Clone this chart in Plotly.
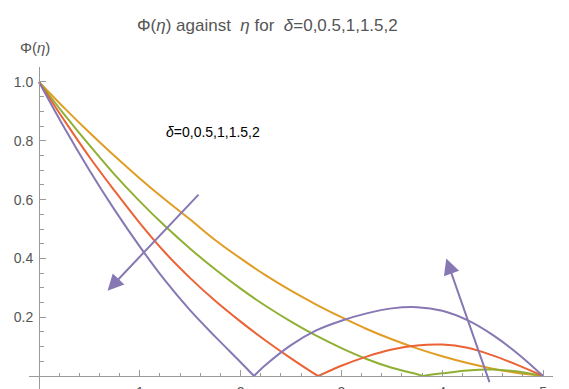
import plotly.graph_objects as go

# ---------------- data ----------------
eta_05 = [0, 0.25, 0.5, 0.75, 1.0, 1.25, 1.5, 1.75, 2.0, 2.25, 2.5, 2.75, 3.0, 3.25, 3.5, 3.75, 4.0, 4.25, 4.5, 4.75, 5.0]
phi_05 = [1.0, 0.912, 0.828, 0.748, 0.672, 0.600, 0.532, 0.462, 0.400, 0.342, 0.290, 0.243, 0.200, 0.160, 0.125, 0.094, 0.067, 0.044, 0.025, 0.010, 0.0]

eta_10 = [0, 0.25, 0.5, 0.75, 1.0, 1.25, 1.5, 1.75, 2.0, 2.25, 2.5, 2.75, 3.0, 3.25, 3.5, 3.75, 3.806, 4.0, 4.25, 4.5, 4.75, 5.0]
phi_10 = [1.0, 0.89, 0.785, 0.685, 0.594, 0.51, 0.433, 0.362, 0.297, 0.238, 0.185, 0.137, 0.095, 0.058, 0.028, 0.006, 0.0, 0.009, 0.019, 0.022, 0.015, 0.0]

eta_15 = [0, 0.25, 0.5, 0.75, 1.0, 1.25, 1.5, 1.75, 2.0, 2.25, 2.5, 2.75, 2.771, 3.0, 3.25, 3.5, 3.75, 4.0, 4.25, 4.5, 4.75, 5.0]
phi_15 = [1.0, 0.87, 0.745, 0.63, 0.52, 0.42, 0.333, 0.255, 0.185, 0.12, 0.06, 0.004, 0.0, 0.035, 0.066, 0.09, 0.104, 0.107, 0.096, 0.07, 0.037, 0.0]

eta_20 = [0, 0.25, 0.5, 0.75, 1.0, 1.25, 1.5, 1.75, 2.0, 2.133, 2.25, 2.5, 2.75, 3.0, 3.25, 3.5, 3.75, 4.0, 4.25, 4.5, 4.75, 5.0]
phi_20 = [1.0, 0.845, 0.70, 0.565, 0.44, 0.325, 0.223, 0.133, 0.047, 0.0, 0.038, 0.105, 0.155, 0.188, 0.213, 0.23, 0.234, 0.222, 0.19, 0.14, 0.076, 0.0]

series = [
    ("δ=0.5", eta_05, phi_05, "#E19C24"),
    ("δ=1", eta_10, phi_10, "#8FB032"),
    ("δ=1.5", eta_15, phi_15, "#EB6235"),
    ("δ=2", eta_20, phi_20, "#8778B3"),
]

x_tick_vals = [1, 2, 3, 4, 5]
x_tick_text = ["1", "2", "3", "4", "5"]
y_tick_vals = [0.2, 0.4, 0.6, 0.8, 1.0]
y_tick_text = ["0.2", "0.4", "0.6", "0.8", "1.0"]

# arrows: (tail_eta, tail_phi, head_eta, head_phi)
arrow_down = (1.597, 0.622, 0.68, 0.29)
arrow_up = (4.474, -0.026, 4.04, 0.40)

# ---------------- layout geometry ----------------
OFF = 8  # default page (body) margin of the written html
W, H = 569 - OFF, 389 - OFF
# plot area in window pixels
L, R, T, B = 29, 553, 67, 389
X_RANGE = [-0.0992, 5.099]
Y_RANGE = [-0.0442, 1.051]


def xp(px):
    return (px - L) / (R - L)


def yp(py):
    return (B - py) / (B - T)


FONT = "Liberation Sans, Arial, Helvetica, sans-serif"
AXIS = "#9a9a9a"
LABEL = "#555555"

fig = go.Figure()


def segments(xs, ys):
    segs = []
    start = 0
    for i in range(1, len(ys) - 1):
        if ys[i] == 0:
            segs.append((xs[start:i + 1], ys[start:i + 1]))
            start = i
    segs.append((xs[start:], ys[start:]))
    return segs


for name, xs, ys, col in series:
    for sx, sy in segments(xs, ys):
        fig.add_trace(go.Scatter(
            x=sx, y=sy, mode="lines", name=name, showlegend=False,
            line=dict(color=col, width=2, shape="spline", smoothing=1.0),
            hoverinfo="skip",
        ))

annotations = [
    dict(xref="paper", yref="paper", x=xp(267), y=yp(25), xanchor="center", yanchor="middle",
         text="Φ(<i>η</i>) against&#160; <i>η</i> for&#160; <i>δ</i>=0,0.5,1,1.5,2",
         showarrow=False, font=dict(family=FONT, size=17, color=LABEL)),
    dict(xref="paper", yref="paper", x=xp(35), y=yp(47), xanchor="center", yanchor="middle",
         text="Φ(<i>η</i>)", showarrow=False, font=dict(family=FONT, size=15, color=LABEL)),
    dict(xref="paper", yref="paper", x=xp(565), y=yp(380), xanchor="left", yanchor="middle",
         text="<i>η</i>", showarrow=False, font=dict(family=FONT, size=15, color=LABEL)),
    dict(xref="paper", yref="paper", x=xp(213), y=yp(132), xanchor="center", yanchor="middle",
         text="<i>δ</i>=0,0.5,1,1.5,2", showarrow=False, font=dict(family=FONT, size=14, color="#000000")),
]
for tx, ty, hx, hy in (arrow_down, arrow_up):
    annotations.append(dict(
        x=hx, y=hy, ax=tx, ay=ty, xref="x", yref="y", axref="x", ayref="y",
        text="", showarrow=True, arrowhead=2, arrowsize=1.6, arrowwidth=2,
        arrowcolor="#8778B3", standoff=0, startstandoff=0,
    ))

fig.update_layout(
    width=W, height=H,
    margin=dict(l=L - OFF, r=W - (R - OFF), t=T - OFF, b=H - (B - OFF), pad=0),
    paper_bgcolor="white", plot_bgcolor="white",
    showlegend=False,
    font=dict(family=FONT, size=14, color=LABEL),
    annotations=annotations,
    xaxis=dict(
        range=X_RANGE, showgrid=False, zeroline=False, showline=True,
        linecolor=AXIS, linewidth=1, anchor="free", position=yp(376),
        tickmode="array", tickvals=x_tick_vals, ticktext=x_tick_text,
        ticks="inside", ticklen=6, tickcolor=AXIS, tickwidth=1,
        minor=dict(tick0=0, dtick=0.2, ticks="inside", ticklen=3.5, tickcolor=AXIS, tickwidth=1),
        tickfont=dict(family=FONT, size=14, color=LABEL), ticklabelstandoff=3,
        automargin=False, fixedrange=True,
    ),
    yaxis=dict(
        range=Y_RANGE, showgrid=False, zeroline=False, showline=True,
        linecolor=AXIS, linewidth=1, anchor="free", position=xp(39),
        tickmode="array", tickvals=y_tick_vals, ticktext=y_tick_text,
        ticks="inside", ticklen=6, tickcolor=AXIS, tickwidth=1,
        minor=dict(tick0=0, dtick=0.05, ticks="inside", ticklen=3.5, tickcolor=AXIS, tickwidth=1),
        tickfont=dict(family=FONT, size=14, color=LABEL), ticklabelstandoff=3,
        automargin=False, fixedrange=True,
    ),
)

fig.write_html("out.html")
